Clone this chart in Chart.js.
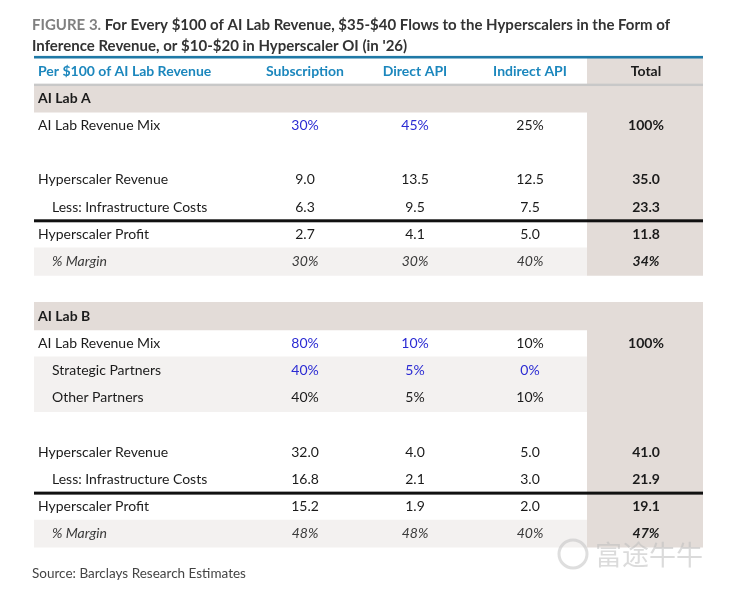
<!DOCTYPE html>
<html>
<head>
<meta charset="utf-8">
<script src="https://cdn.jsdelivr.net/npm/chart.js@4.4.1/dist/chart.umd.min.js"></script>
<style>
  body { margin: 0; background: #fff; }
  canvas { display: block; }
</style>
</head>
<body>
<canvas id="tbl" width="731" height="593"></canvas>
<script>
// table values
const columns = ['Subscription', 'Direct API', 'Indirect API', 'Total'];
const labAMix = [30, 45, 25, 100];
const labARevenue = [9.0, 13.5, 12.5, 35.0];
const labACosts = [6.3, 9.5, 7.5, 23.3];
const labAProfit = [2.7, 4.1, 5.0, 11.8];
const labAMargin = [30, 30, 40, 34];
const labBMix = [80, 10, 10, 100];
const labBStrategic = [40, 5, 0, null];
const labBOther = [40, 5, 10, null];
const labBRevenue = [32.0, 4.0, 5.0, 41.0];
const labBCosts = [16.8, 2.1, 3.0, 21.9];
const labBProfit = [15.2, 1.9, 2.0, 19.1];
const labBMargin = [48, 48, 40, 47];

const rows = [
  { label: 'Per $100 of AI Lab Revenue', kind: 'header' },
  { label: 'AI Lab A', kind: 'section' },
  { label: 'AI Lab Revenue Mix', values: labAMix, fmt: 'pct', blue: [0, 1] },
  { label: '' },
  { label: 'Hyperscaler Revenue', values: labARevenue, fmt: 'num' },
  { label: 'Less: Infrastructure Costs', values: labACosts, fmt: 'num', indent: true },
  { label: 'Hyperscaler Profit', values: labAProfit, fmt: 'num' },
  { label: '% Margin', values: labAMargin, fmt: 'pct', indent: true, italic: true },
  { label: '' },
  { label: 'AI Lab B', kind: 'section' },
  { label: 'AI Lab Revenue Mix', values: labBMix, fmt: 'pct', blue: [0, 1] },
  { label: 'Strategic Partners', values: labBStrategic, fmt: 'pct', indent: true, blue: [0, 1, 2] },
  { label: 'Other Partners', values: labBOther, fmt: 'pct', indent: true },
  { label: '' },
  { label: 'Hyperscaler Revenue', values: labBRevenue, fmt: 'num' },
  { label: 'Less: Infrastructure Costs', values: labBCosts, fmt: 'num', indent: true },
  { label: 'Hyperscaler Profit', values: labBProfit, fmt: 'num' },
  { label: '% Margin', values: labBMargin, fmt: 'pct', indent: true, italic: true },
];

const tanRows = [1, 9];
const shadeRows = [7, 11, 12, 17];
const totalRows = rows.map((r, i) => i).filter(i => i !== 8);
const ruleAfter = [5, 15]; // thick black rule under these rows

// layout (x-scale units are pixels across the page)
const tableSpan = [34, 703];
const totalSpan = [587, 703];
const labelX = 38, indentX = 52;
const colCenters = [305, 415, 530, 646];

const FONT = 'Lato, "Source Sans Pro", sans-serif';
const TAN = '#e3dcd8';
const SHADE = '#f3f1f0';
const HEAD_BLUE = '#1c87bd';
const VAL_BLUE = '#2b2bd3';
const INK = '#1b1b1b';

const band = (idx, span) => rows.map((r, i) => idx.includes(i) ? span : null);

const tablePlugin = {
  id: 'tableText',
  afterDatasetsDraw(chart) {
    const { ctx, scales: { x, y } } = chart;
    const step = y.getPixelForValue(1) - y.getPixelForValue(0);
    const x0 = x.getPixelForValue(tableSpan[0]);
    const x1 = x.getPixelForValue(tableSpan[1]);
    ctx.save();

    // top blue rule
    ctx.fillStyle = '#1f79a6';
    ctx.fillRect(x0, chart.chartArea.top - 1.5, x1 - x0, 2.6);
    // grey rule under header
    ctx.fillStyle = '#c8c8c8';
    const hy = y.getPixelForValue(0) + step / 2;
    ctx.fillRect(x0, hy - 1, x1 - x0, 2.4);
    // black rules above profit
    ctx.fillStyle = '#111';
    ruleAfter.forEach(i => {
      const ry = y.getPixelForValue(i) + step / 2;
      ctx.fillRect(x0, ry - 1.5, x1 - x0, 3);
    });

    ctx.textBaseline = 'middle';
    rows.forEach((r, i) => {
      const cy = y.getPixelForValue(i);
      if (r.kind === 'header') {
        ctx.font = `bold 14px ${FONT}`;
        ctx.fillStyle = HEAD_BLUE;
        ctx.textAlign = 'left';
        ctx.fillText(r.label, x.getPixelForValue(labelX), cy);
        ctx.textAlign = 'center';
        columns.forEach((c, j) => {
          ctx.fillStyle = j === 3 ? INK : HEAD_BLUE;
          ctx.fillText(c, x.getPixelForValue(colCenters[j]), cy);
        });
        return;
      }
      if (r.kind === 'section') {
        ctx.font = `bold 14px ${FONT}`;
        ctx.fillStyle = INK;
        ctx.textAlign = 'left';
        ctx.fillText(r.label, x.getPixelForValue(labelX), cy);
        return;
      }
      if (!r.label) return;
      const it = r.italic ? 'italic ' : '';
      ctx.font = `${it}14px ${FONT}`;
      ctx.fillStyle = r.italic ? '#3a3a3a' : INK;
      ctx.textAlign = 'left';
      ctx.fillText(r.label, x.getPixelForValue(r.indent ? indentX : labelX), cy);
      ctx.textAlign = 'center';
      r.values.forEach((v, j) => {
        if (v === null) return;
        const txt = r.fmt === 'pct' ? v + '%' : v.toFixed(1);
        const bold = j === 3 ? 'bold ' : '';
        ctx.font = `${it}${bold}14px ${FONT}`;
        if (r.blue && r.blue.includes(j)) ctx.fillStyle = VAL_BLUE;
        else if (j === 3) ctx.fillStyle = INK;
        else ctx.fillStyle = r.italic ? '#3a3a3a' : INK;
        ctx.fillText(txt, x.getPixelForValue(colCenters[j]), cy);
      });
    });
    ctx.restore();
  },
  afterDraw(chart) {
    const { ctx } = chart;
    ctx.save();
    ctx.textBaseline = 'middle';
    ctx.textAlign = 'left';
    ctx.font = `bold 15px ${FONT}`;
    const lead = 'FIGURE 3. ';
    ctx.fillStyle = '#808080';
    ctx.fillText(lead, 32, 25);
    ctx.fillStyle = '#333';
    ctx.fillText('For Every $100 of AI Lab Revenue, $35-$40 Flows to the Hyperscalers in the Form of',
      32 + ctx.measureText(lead).width, 25);
    ctx.fillText("Inference Revenue, or $10-$20 in Hyperscaler OI (in '26)", 32, 46);

    ctx.font = `13.5px ${FONT}`;
    ctx.fillStyle = '#444';
    ctx.fillText('Source: Barclays Research Estimates', 32, 574);

    // faint watermark with round logo
    ctx.strokeStyle = 'rgba(190,190,190,0.5)';
    ctx.lineWidth = 3;
    ctx.beginPath();
    ctx.arc(573, 554, 14, 0, Math.PI * 2);
    ctx.stroke();
    ctx.font = `27px "Noto Sans CJK SC", sans-serif`;
    ctx.fillStyle = 'rgba(190,190,190,0.55)';
    ctx.fillText('富途牛牛', 595, 555);
    ctx.restore();
  }
};

const barBase = { grouped: false, barPercentage: 1.04, categoryPercentage: 1, borderWidth: 0 };

new Chart(document.getElementById('tbl'), {
  type: 'bar',
  data: {
    labels: rows.map(r => r.label),
    datasets: [
      { ...barBase, label: 'total', data: band(totalRows, totalSpan), backgroundColor: TAN },
      { ...barBase, label: 'section', data: band(tanRows, tableSpan), backgroundColor: TAN },
      { ...barBase, label: 'shade', data: band(shadeRows, [tableSpan[0], totalSpan[0]]), backgroundColor: SHADE },
    ],
  },
  options: {
    indexAxis: 'y',
    responsive: false,
    animation: false,
    layout: { padding: { left: 0, right: 0, top: 57.4, bottom: 45.4 } },
    scales: {
      x: { type: 'linear', min: 0, max: 731, display: false },
      y: { type: 'category', display: false, offset: true },
    },
    plugins: {
      legend: { display: false },
      tooltip: { enabled: false },
    },
  },
  plugins: [tablePlugin],
});
</script>
</body>
</html>
